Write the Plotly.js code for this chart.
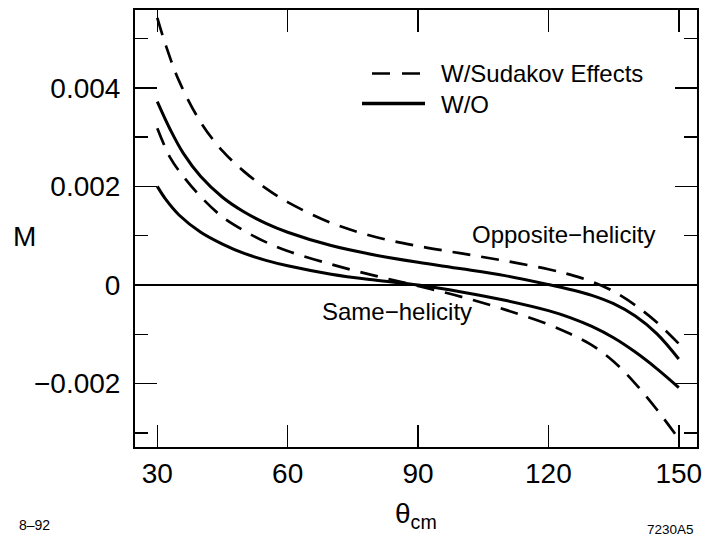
<!DOCTYPE html>
<html>
<head>
<meta charset="utf-8">
<script src="https://cdn.plot.ly/plotly-3.0.1.min.js"></script>
<style>html,body{margin:0;padding:0;background:#fff;}#chart{width:702px;height:536px;}</style>
</head>
<body>
<div id="chart"></div>
<script>
// Opposite-helicity, with Sudakov effects (dashed)
const oppSudX = [30, 32, 35, 40, 45, 50, 55, 60, 70, 80, 90, 100, 110, 120, 125, 130, 135, 140, 145, 150];
const oppSudY = [5.42, 4.85, 4.14, 3.30, 2.72, 2.30, 1.96, 1.68, 1.26, 0.98, 0.79, 0.64, 0.49, 0.32, 0.21, 0.07, -0.13, -0.41, -0.76, -1.19];
// Opposite-helicity, without (solid)
const oppWoX = [30, 33, 36, 40, 45, 50, 55, 60, 70, 80, 90, 100, 110, 120, 125, 130, 135, 140, 145, 150];
const oppWoY = [3.72, 3.15, 2.67, 2.20, 1.78, 1.48, 1.25, 1.07, 0.80, 0.61, 0.46, 0.33, 0.19, 0.01, -0.09, -0.21, -0.38, -0.63, -0.99, -1.50];
// Same-helicity, with Sudakov effects (dashed)
const sameSudX = [30, 33, 36, 40, 45, 50, 55, 60, 70, 80, 90, 100, 110, 120, 125, 130, 135, 140, 145, 150];
const sameSudY = [3.18, 2.58, 2.20, 1.79, 1.38, 1.10, 0.87, 0.69, 0.42, 0.19, -0.02, -0.24, -0.50, -0.80, -0.99, -1.22, -1.55, -2.00, -2.53, -3.12];
// Same-helicity, without (solid)
const sameWoX = [30, 32, 35, 40, 45, 50, 55, 60, 70, 80, 90, 100, 110, 120, 125, 130, 135, 140, 145, 150];
const sameWoY = [2.00, 1.73, 1.42, 1.07, 0.83, 0.64, 0.50, 0.39, 0.22, 0.10, 0.00, -0.14, -0.31, -0.52, -0.66, -0.84, -1.07, -1.36, -1.70, -2.08];

const xTicks = [30, 60, 90, 120, 150];
const yTicks = [-0.002, 0, 0.002, 0.004];
const yTickText = ['\u22120.002', '0', '0.002', '0.004'];
const yMinor = [-0.003, -0.001, 0.001, 0.003, 0.005];
const legendLabels = ['W/Sudakov Effects', 'W/O'];

const scale = v => v.map(y => y / 1000);
const FONT = 'Liberation Sans, Arial, Helvetica, sans-serif';
const DASH = '18px,11px';

function tr(x, y, dashed) {
  return {x: x, y: scale(y), type: 'scatter', mode: 'lines',
    line: {color: '#000', width: dashed ? 2.7 : 3, dash: dashed ? DASH : 'solid', shape: 'spline', smoothing: 1},
    showlegend: false, hoverinfo: 'skip'};
}

const data = [
  tr(oppSudX, oppSudY, true),
  tr(oppWoX, oppWoY, false),
  tr(sameSudX, sameSudY, true),
  tr(sameWoX, sameWoY, false)
];

const L = 135, T = 10, W = 562, H = 437;
const px = v => (v - L) / W;
const py = v => (T + H - v) / H;

const layout = {
  width: 702, height: 536,
  margin: {l: 135, r: 5, t: 10, b: 89, pad: 0},
  paper_bgcolor: '#fff', plot_bgcolor: '#fff',
  font: {family: FONT, color: '#000', size: 28},
  showlegend: false,
  xaxis: {
    range: [24.87, 154.2], tickvals: xTicks, ticktext: xTicks.map(String),
    ticks: 'inside', ticklen: 22, tickwidth: 1.5, tickcolor: '#000',
    showline: true, linewidth: 2, linecolor: '#000', mirror: 'ticks',
    showgrid: false, zeroline: false, ticklabeloverflow: 'allow',
    tickfont: {family: FONT, size: 28, color: '#000'}
  },
  yaxis: {
    range: [-0.003286, 0.005578], tickvals: yTicks, ticktext: yTickText,
    ticks: 'inside', ticklen: 22, tickwidth: 1.5, tickcolor: '#000',
    minor: {tickvals: yMinor, ticks: 'inside', ticklen: 13, tickwidth: 1.5, tickcolor: '#000', showgrid: false},
    showline: true, linewidth: 2, linecolor: '#000', mirror: 'ticks',
    showgrid: false, zeroline: true, zerolinewidth: 1.5, zerolinecolor: '#000',
    ticklabelstandoff: 7,
    tickfont: {family: FONT, size: 28, color: '#000'}
  },
  shapes: [
    {type: 'line', xref: 'paper', yref: 'paper', x0: px(372), x1: px(424), y0: py(73.5), y1: py(73.5),
     line: {color: '#000', width: 2.7, dash: '18px,12px'}},
    {type: 'line', xref: 'paper', yref: 'paper', x0: px(362), x1: px(425), y0: py(103.5), y1: py(103.5),
     line: {color: '#000', width: 3.5}}
  ],
  annotations: [
    {text: legendLabels[0], xref: 'paper', yref: 'paper', x: px(439), y: py(74), xanchor: 'left', yanchor: 'middle', showarrow: false, font: {size: 24}},
    {text: legendLabels[1], xref: 'paper', yref: 'paper', x: px(439), y: py(105), xanchor: 'left', yanchor: 'middle', showarrow: false, font: {size: 24}},
    {text: 'Opposite\u2212helicity', xref: 'paper', yref: 'paper', x: px(470), y: py(234), xanchor: 'left', yanchor: 'middle', showarrow: false, font: {size: 24}},
    {text: 'Same\u2212helicity', xref: 'paper', yref: 'paper', x: px(320), y: py(311), xanchor: 'left', yanchor: 'middle', showarrow: false, font: {size: 24}},
    {text: 'M', xref: 'paper', yref: 'paper', x: px(24), y: py(236), xanchor: 'center', yanchor: 'middle', showarrow: false, font: {size: 28}},
    {text: '\u03b8<sub>cm</sub>', xref: 'paper', yref: 'paper', x: px(416), y: py(515), xanchor: 'center', yanchor: 'middle', showarrow: false, font: {size: 28}},
    {text: '8\u201392', xref: 'paper', yref: 'paper', x: px(17), y: py(525), xanchor: 'left', yanchor: 'middle', showarrow: false, font: {size: 14}},
    {text: '7230A5', xref: 'paper', yref: 'paper', x: px(696), y: py(529), xanchor: 'right', yanchor: 'middle', showarrow: false, font: {size: 13.5}}
  ]
};

Plotly.newPlot('chart', data, layout, {staticPlot: true, displayModeBar: false});
</script>
</body>
</html>
